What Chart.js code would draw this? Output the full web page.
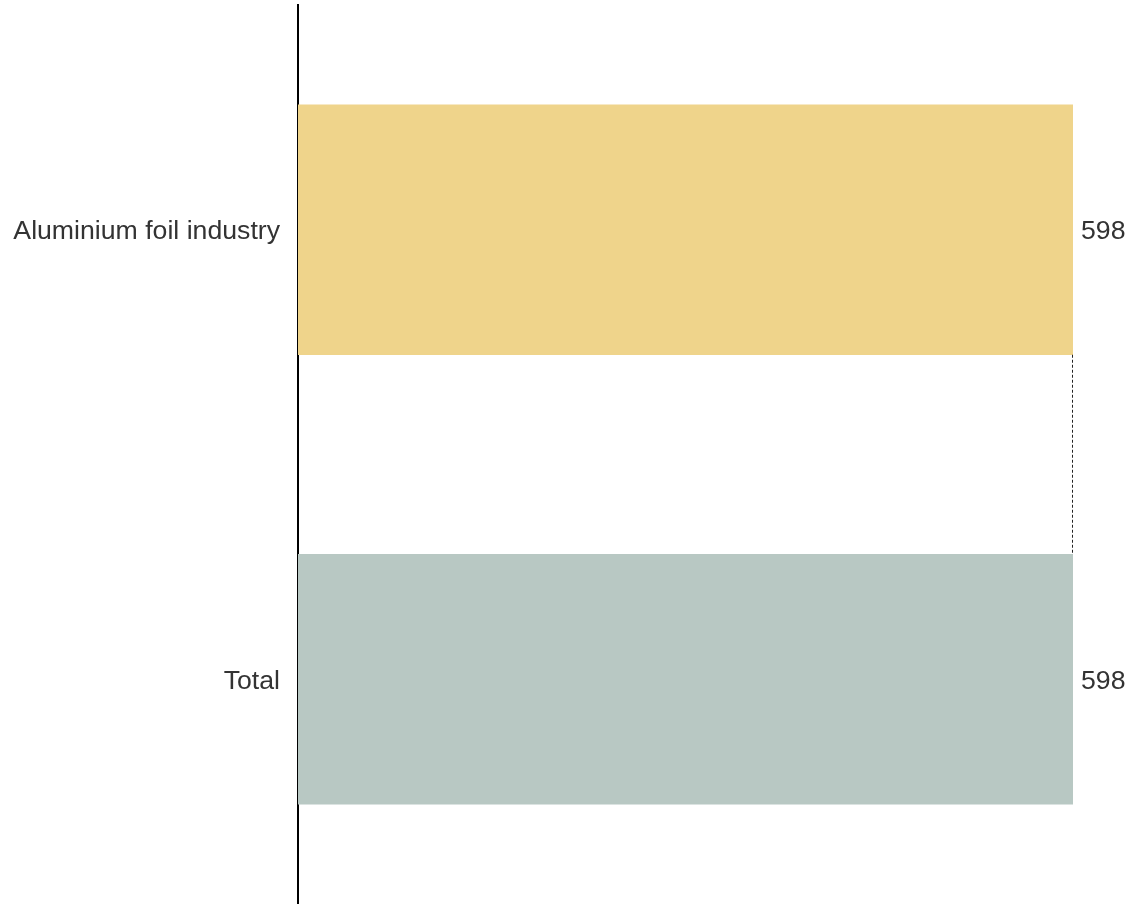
<!DOCTYPE html>
<html>
<head>
<meta charset="utf-8">
<script src="https://cdn.jsdelivr.net/npm/chart.js@4.4.1/dist/chart.umd.min.js"></script>
<style>
  html, body { margin: 0; padding: 0; background: #ffffff; }
  #wrap { width: 1130px; height: 904px; position: relative; }
</style>
</head>
<body>
<div id="wrap"><canvas id="chart"></canvas></div>
<script>
// Waterfall steps and the closing total
const categories = ['Aluminium foil industry', 'Total'];
const stepStart = [0, 0];
const stepEnd = [598, 598];
const valueLabels = ['598', '598'];
const barColors = ['#EFD48B', '#B8C8C3'];

const FONT = "'Liberation Sans', Arial, Helvetica, sans-serif";
const FONT_SIZE = 26.67;
const TEXT_COLOR = '#333333';

// Value labels to the right of each bar and dashed connectors between steps
const waterfallDecor = {
  id: 'waterfallDecor',
  afterDatasetsDraw(chart) {
    const ctx = chart.ctx;
    const bars = chart.getDatasetMeta(0).data;
    ctx.save();
    // connectors
    ctx.strokeStyle = '#222222';
    ctx.lineWidth = 1;
    ctx.setLineDash([3, 2]);
    for (let i = 0; i < bars.length - 1; i++) {
      const a = bars[i], b = bars[i + 1];
      const x = Math.round(a.x) - 0.5;
      ctx.beginPath();
      ctx.moveTo(x, a.y + a.height / 2);
      ctx.lineTo(x, b.y - b.height / 2);
      ctx.stroke();
    }
    ctx.setLineDash([]);
    // labels
    ctx.fillStyle = TEXT_COLOR;
    ctx.font = FONT_SIZE + 'px ' + FONT;
    ctx.textAlign = 'left';
    ctx.textBaseline = 'middle';
    bars.forEach((bar, i) => {
      ctx.fillText(valueLabels[i], bar.x + 8, bar.y + 2);
    });
    ctx.restore();
  }
};

new Chart(document.getElementById('chart'), {
  type: 'bar',
  data: {
    labels: categories,
    datasets: [{
      data: stepStart.map((s, i) => [s, stepEnd[i]]),
      backgroundColor: barColors,
      borderWidth: 0,
      barThickness: 250
    }]
  },
  options: {
    indexAxis: 'y',
    responsive: true,
    maintainAspectRatio: false,
    animation: false,
    layout: { padding: { top: 5, right: 57, bottom: 0, left: 0 } },
    plugins: {
      legend: { display: false },
      tooltip: { enabled: false }
    },
    scales: {
      x: {
        display: false,
        min: 0,
        max: 598
      },
      y: {
        afterFit(scale) {
          scale.width = 298;
          scale.paddingTop = 0;
          scale.paddingBottom = 0;
        },
        grid: { display: false, drawTicks: false },
        border: { display: true, color: '#000000', width: 2 },
        ticks: {
          padding: 18,
          labelOffset: 2,
          color: TEXT_COLOR,
          font: { family: FONT, size: FONT_SIZE }
        }
      }
    }
  },
  plugins: [waterfallDecor]
});
</script>
</body>
</html>
